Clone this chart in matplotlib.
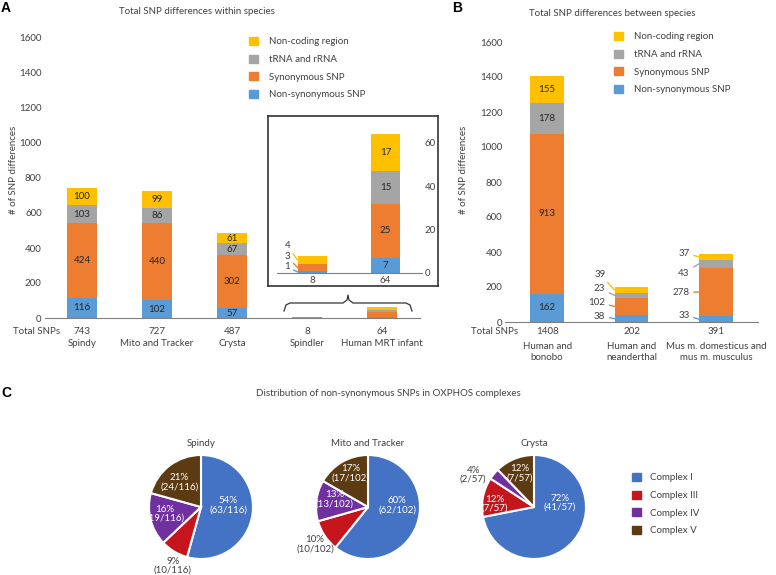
import numpy as np
import matplotlib.pyplot as plt
from matplotlib.patches import Patch
from matplotlib.transforms import offset_copy

plt.rcParams['font.family'] = ['Lato', 'DejaVu Sans']
plt.rcParams['font.size'] = 7

W, H = 776, 575
TXT = '#404040'

# A: SNP differences within species (stack: non-syn, syn, tRNA/rRNA, non-coding)
within_names = ["Spindy", "Mito and Tracker", "Crysta", "Spindler", "Human MRT infant"]
within_nonsyn = [116, 102, 57, 1, 7]
within_syn = [424, 440, 302, 3, 25]
within_rna = [103, 86, 67, 0, 15]
within_noncoding = [100, 99, 61, 4, 17]

# B: SNP differences between species
between_names = ["Human and\nbonobo", "Human and\nneanderthal", "Mus m. domesticus and\nmus m. musculus"]
between_nonsyn = [162, 38, 33]
between_syn = [913, 102, 278]
between_rna = [178, 23, 43]
between_noncoding = [155, 39, 37]

seg_labels = ["Non-synonymous SNP", "Synonymous SNP", "tRNA and rRNA", "Non-coding region"]
seg_colors = ["#5B9BD5", "#ED7D31", "#A5A5A5", "#FFC000"]

# C: non-synonymous SNPs per OXPHOS complex
pie_names = ["Spindy", "Mito and Tracker", "Crysta"]
complexes = ["Complex I", "Complex III", "Complex IV", "Complex V"]
complex_colors = ["#4472C4", "#C5161D", "#7030A0", "#5C3A12"]
spindy_counts = [63, 10, 19, 24]
mito_counts = [62, 10, 13, 17]
crysta_counts = [41, 7, 2, 7]
spindy_pct = [54, 9, 16, 21]
mito_pct = [60, 10, 13, 17]
crysta_pct = [72, 12, 4, 12]

fig = plt.figure(figsize=(W / 100, H / 100), dpi=100)


def px_axes(left, top, right, bottom, **kw):
    return fig.add_axes([left / W, 1 - bottom / H, (right - left) / W, (bottom - top) / H], **kw)


def ftext(x, y, s, **kw):
    kw.setdefault('color', TXT)
    fig.text(x / W, 1 - y / H, s, **kw)


def below(ax, x, dy, s, **kw):
    tr = offset_copy(ax.get_xaxis_transform(), fig=fig, y=-dy, units='dots')
    ax.text(x, 0, s, transform=tr, ha='center', va='center', color=TXT, **kw)


def stacked(ax, layers, width=0.4):
    x = np.arange(len(layers[0]))
    bottom = np.zeros(len(x))
    segs = []
    for vals, col, lab in zip(layers, seg_colors, seg_labels):
        vals = np.asarray(vals, float)
        ax.bar(x, vals, width, bottom=bottom, color=col, label=lab, edgecolor='none', zorder=2)
        segs.append((bottom.copy(), vals))
        bottom += vals
    return x, segs, bottom


def style_axis(ax):
    for s in ['top', 'left', 'right']:
        ax.spines[s].set_visible(False)
    ax.spines['bottom'].set_color('#7F7F7F')
    ax.spines['bottom'].set_linewidth(0.8)
    ax.tick_params(axis='both', length=0, pad=2, labelcolor=TXT, labelsize=7)
    ax.set_facecolor('none')


def seg_legend(x, y):
    handles = [Patch(color=c, label=l) for c, l in zip(seg_colors, seg_labels)][::-1]
    fig.legend(handles=handles, loc='upper left', bbox_to_anchor=(x / W, 1 - y / H),
               frameon=False, fontsize=7, handlelength=0.9, handleheight=0.9,
               labelspacing=0.85, handletextpad=1.2, borderpad=0, borderaxespad=0,
               labelcolor=TXT)


# ---------------- panel A ----------------
axA = px_axes(44.5, 38, 419.5, 318)
layersA = [within_nonsyn, within_syn, within_rna, within_noncoding]
xA, segsA, totA = stacked(axA, layersA)
axA.set_xlim(-0.5, 4.5)
axA.set_ylim(0, 1600)
axA.set_yticks(np.arange(0, 1601, 200))
axA.set_xticks([])
style_axis(axA)
for i in range(3):
    for b, v in segsA:
        axA.text(xA[i], b[i] + v[i] / 2, str(int(v[i])), ha='center', va='center', color='#262626', fontsize=7)
for i in xA:
    below(axA, i, 13, str(int(totA[i])))
    below(axA, i, 26, within_names[i])
ftext(37, 331, "Total SNPs", ha='center', va='center')
ftext(197, 12, "Total SNP differences within species", ha='center', va='center')
ftext(14, 170, "# of SNP differences", rotation=90, ha='center', va='center')
ftext(1, 8, "A", fontsize=10, fontweight='bold', family='Liberation Sans', color='black', va='center')
seg_legend(249, 37)

# inset zoom of the two small samples
frame = px_axes(268, 116, 438, 286)
frame.set_xticks([])
frame.set_yticks([])
for s in frame.spines.values():
    s.set_color('#333333')
    s.set_linewidth(1.2)
frame.set_facecolor('white')

axI = px_axes(277, 130, 422, 273)
layersI = [l[3:] for l in layersA]
xI, segsI, totI = stacked(axI, layersI)
axI.set_xlim(-0.48, 1.5)
axI.set_ylim(0, 66)
style_axis(axI)
axI.yaxis.tick_right()
axI.set_yticks([0, 20, 40, 60])
axI.set_xticks(xI)
axI.set_xticklabels([str(int(t)) for t in totI])
axI.tick_params(axis='x', pad=2)
for b, v in segsI:
    axI.text(xI[1], b[1] + v[1] / 2, str(int(v[1])), ha='center', va='center', color='#262626', fontsize=7)
# leader labels for the Spindler bar (zero-height layer skipped)
spindler_label_y = [2.8, 7.4, None, 12.5]
for (b, v), col, ly in zip(segsI, seg_colors, spindler_label_y):
    if v[0] == 0:
        continue
    axI.annotate(str(int(v[0])), xy=(xI[0] - 0.2, b[0] + v[0] / 2), xytext=(xI[0] - 0.3, ly),
                 ha='right', va='center', color=TXT, fontsize=7,
                 arrowprops=dict(arrowstyle='-', color=col, lw=1, shrinkA=0.5, shrinkB=0))

# brace linking the small bars to the inset
ov = px_axes(0, 0, W, H)
ov.set_xlim(0, W)
ov.set_ylim(H, 0)
ov.axis('off')
ov.set_zorder(-1)
bx = [284, 286, 290, 343, 347, 348, 349, 353, 406, 410, 412]
by = [311, 305, 303, 303, 300, 295, 300, 303, 303, 305, 311]
ov.plot(bx, by, color='#333333', lw=0.9, solid_joinstyle='round')

# ---------------- panel B ----------------
axB = px_axes(505, 42, 758, 322)
layersB = [between_nonsyn, between_syn, between_rna, between_noncoding]
xB, segsB, totB = stacked(axB, layersB)
axB.set_xlim(-0.5, 2.5)
axB.set_ylim(0, 1600)
axB.set_yticks(np.arange(0, 1601, 200))
axB.set_xticks([])
style_axis(axB)
for b, v in segsB:
    axB.text(xB[0], b[0] + v[0] / 2, str(int(v[0])), ha='center', va='center', color='#262626', fontsize=7)
lead_pos = {1: [34, 114, 194, 274], 2: [40, 166, 280, 394]}
for i, ys in lead_pos.items():
    for (b, v), col, ly in zip(segsB, seg_colors, ys):
        axB.annotate(str(int(v[i])), xy=(xB[i] - 0.2, b[i] + v[i] / 2), xytext=(xB[i] - 0.31, ly),
                     ha='right', va='center', color=TXT, fontsize=7,
                     arrowprops=dict(arrowstyle='-', color=col, lw=1, shrinkA=1, shrinkB=0))
for i in xB:
    below(axB, i, 10, str(int(totB[i])))
    below(axB, i, 30, between_names[i], linespacing=1.3)
ftext(495, 331, "Total SNPs", ha='center', va='center')
ftext(612, 13, "Total SNP differences between species", ha='center', va='center')
ftext(463, 170, "# of SNP differences", rotation=90, ha='center', va='center')
ftext(452, 8, "B", fontsize=10, fontweight='bold', family='Liberation Sans', color='black', va='center')
seg_legend(614, 32)

# ---------------- panel C ----------------
ftext(1, 393, "C", fontsize=10, fontweight='bold', family='Liberation Sans', color='black', va='center')
ftext(388, 393, "Distribution of non-synonymous SNPs in OXPHOS complexes", ha='center', va='center')

pie_counts = [spindy_counts, mito_counts, crysta_counts]
pie_pcts = [spindy_pct, mito_pct, crysta_pct]
pie_cx = [201, 368, 534]
pie_cy = 507
R = 52
label_xy = [
    [(0.52, 0.04), (-0.54, -1.13), (-0.69, -0.13), (-0.42, 0.48)],
    [(0.56, 0.04), (-1.02, -0.71), (-0.65, 0.15), (-0.33, 0.65)],
    [(0.50, 0.08), (-0.75, 0.06), (-1.17, 0.62), (-0.27, 0.65)],
]
for name, counts, pcts, cx, lxy in zip(pie_names, pie_counts, pie_pcts, pie_cx, label_xy):
    ax = px_axes(cx - R, pie_cy - R, cx + R, pie_cy + R)
    ax.pie(counts, colors=complex_colors, startangle=90, counterclock=False,
           wedgeprops=dict(edgecolor='white', linewidth=1.5))
    ax.set_xlim(-1, 1)
    ax.set_ylim(-1, 1)
    total = sum(counts)
    for n, p, (lx, ly) in zip(counts, pcts, lxy):
        outside = np.hypot(lx, ly) > 1
        ax.text(lx, ly, f"{p}%\n({n}/{total})", ha='center', va='center', fontsize=7,
                linespacing=1.05, color=TXT if outside else 'white')
    ftext(cx, 443, name, ha='center', va='center')

fig.legend(handles=[Patch(color=c, label=l) for c, l in zip(complex_colors, complexes)],
           loc='upper left', bbox_to_anchor=(632 / W, 1 - 473 / H), frameon=False, fontsize=7,
           handlelength=0.9, handleheight=0.9, labelspacing=0.85, handletextpad=1.0,
           borderpad=0, borderaxespad=0, labelcolor=TXT)

fig.savefig("out.png", dpi=100)
